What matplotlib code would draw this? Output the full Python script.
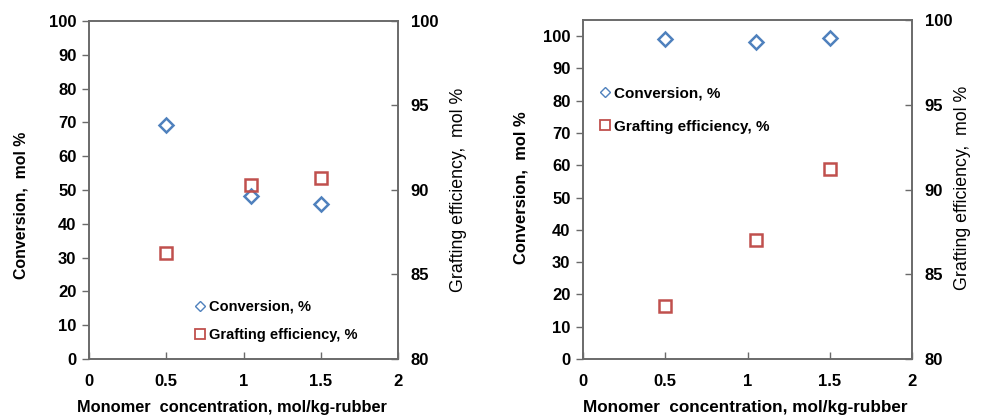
import matplotlib
matplotlib.use("Agg")
from matplotlib import pyplot as plt
from matplotlib.lines import Line2D

plt.rcParams['font.family'] = ['Liberation Sans', 'DejaVu Sans']
plt.rcParams['font.weight'] = 'bold'

# data
conc = [0.5, 1.05, 1.5]
conv_a = [69.3, 48.2, 45.8]
graft_a = [86.3, 90.3, 90.7]
conv_b = [99.0, 98.3, 99.3]
graft_b = [83.1, 87.0, 91.2]

xticks = [0, 0.5, 1, 1.5, 2]
xtick_labels = ['0', '0.5', '1', '1.5', '2']

blue = '#4F81BD'
red = '#C0504D'
spine_col = '#6a6a6a'

W, H = 984, 418
fig = plt.figure(figsize=(W / 100, H / 100), dpi=100)


def panel(rect, conv, graft, conv_ylim, lab_fs, xlab_x, ylab_x, ylab_y, y2lab_x, y2lab_y,
          leg_xy, leg_fs, leg_sp):
    ax = fig.add_axes(rect)
    ax2 = ax.twinx()
    ax.plot(conc, conv, linestyle='none', marker='D', markersize=7,
            markerfacecolor='none', markeredgecolor=blue, markeredgewidth=1.8)
    ax2.plot(conc, graft, linestyle='none', marker='s', markersize=9,
             markerfacecolor='none', markeredgecolor=red, markeredgewidth=1.8)
    ax.set_xlim(0, 2)
    ax.set_ylim(*conv_ylim)
    ax.set_yticks(range(0, 101, 10))
    ax.set_xticks(xticks)
    ax.set_xticklabels(xtick_labels)
    ax2.set_ylim(80, 100)
    ax2.set_yticks([80, 85, 90, 95, 100])
    for a in (ax, ax2):
        for s in a.spines.values():
            s.set_color(spine_col)
            s.set_linewidth(1.2)
    ax.tick_params(axis='y', direction='out', length=5, width=1, color=spine_col,
                   labelsize=12, pad=4)
    ax.tick_params(axis='x', direction='in', length=5, width=1, color=spine_col,
                   labelsize=12, pad=11)
    ax2.tick_params(axis='y', direction='in', length=5, width=1, color=spine_col,
                    labelsize=12, pad=9)
    ax.set_ylabel('Conversion,  mol %', fontsize=lab_fs - 0.4, fontweight='bold')
    ax.yaxis.set_label_coords(ylab_x, ylab_y)
    ax2.set_ylabel('Grafting efficiency,  mol %', fontsize=12.8, fontweight='normal')
    ax2.yaxis.set_label_coords(y2lab_x, y2lab_y)
    ax.set_xlabel('Monomer  concentration, mol/kg-rubber', fontsize=lab_fs,
                  fontweight='bold')
    ax.xaxis.set_label_coords(xlab_x, -0.12)

    handles = [
        Line2D([], [], linestyle='none', marker='D', markersize=5, markerfacecolor='none',
               markeredgecolor=blue, markeredgewidth=1.0),
        Line2D([], [], linestyle='none', marker='s', markersize=7, markerfacecolor='none',
               markeredgecolor=red, markeredgewidth=1.3),
    ]
    ax.legend(handles, ['Conversion, %', 'Grafting efficiency, %'], loc='center left',
              bbox_to_anchor=leg_xy, bbox_transform=fig.transFigure, frameon=False,
              prop={'size': leg_fs, 'weight': 'bold'}, handlelength=0.6,
              handletextpad=0.3, labelspacing=leg_sp, borderpad=0, borderaxespad=0)
    return ax, ax2


panel([89 / W, 59 / H, 309 / W, 338 / H], conv_a, graft_a, (0, 100), 11.8,
      0.463, -0.195, 0.455, 1.168, 0.5, (196 / W, 1 - 321 / H), 10.5, 1.0)
panel([583 / W, 59 / H, 329 / W, 339 / H], conv_b, graft_b, (0, 105), 12.3,
      0.492, -0.167, 0.505, 1.128, 0.504, (600 / W, 1 - 110 / H), 11, 1.25)

fig.savefig('out.png', dpi=100)
